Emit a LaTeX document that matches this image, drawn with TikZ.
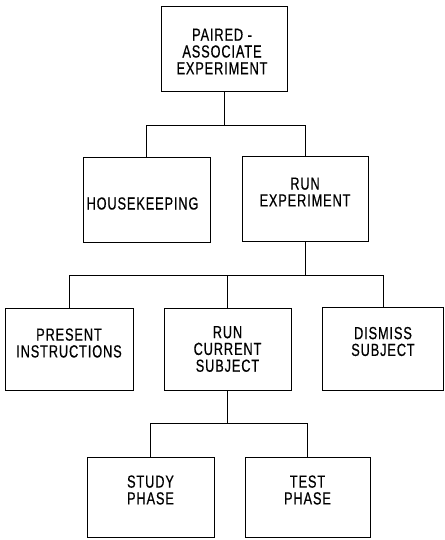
\documentclass[tikz,border=0pt]{standalone}
\usepackage{fontspec}
\newfontfamily\lblfont[FakeStretch=0.73,LetterSpace=5,FakeBold=0.5]{Liberation Sans}
\begin{document}
\begin{tikzpicture}[x=1pt,y=-1pt,
  box/.style={draw, line width=1pt, inner sep=0pt},
  txt/.style={font=\lblfont\fontsize{17.5}{16.8}\selectfont, align=center, inner sep=0pt},
  link/.style={line width=1pt}]
\useasboundingbox[fill=white] (0,0) rectangle (444,540);
% boxes
\node[box, minimum width=126pt, minimum height=85pt] (pae) at (224,49.5) {};
\node[box, minimum width=127pt, minimum height=84pt] (hk) at (146.5,200) {};
\node[box, minimum width=126pt, minimum height=84pt] (re) at (305,199) {};
\node[box, minimum width=128pt, minimum height=82pt] (pi) at (69,349) {};
\node[box, minimum width=127pt, minimum height=82pt] (rc) at (227.5,349) {};
\node[box, minimum width=121pt, minimum height=83pt] (ds) at (383,348.5) {};
\node[box, minimum width=127pt, minimum height=80pt] (sp) at (150.5,497) {};
\node[box, minimum width=125pt, minimum height=80pt] (tp) at (307.5,497) {};
% texts
\node[txt] (paet) at (222,51.5) {PAIRED -\\ASSOCIATE\\EXPERIMENT};
\node[txt] (hkt) at (142.5,203.5) {HOUSEKEEPING};
\node[txt] (ret) at (305,192) {RUN\\EXPERIMENT};
\node[txt] (pit) at (69,343) {PRESENT\\INSTRUCTIONS};
\node[txt] (rct) at (227.5,349) {RUN\\CURRENT\\SUBJECT};
\node[txt] (dst) at (383,341.5) {DISMISS\\SUBJECT};
\node[txt] (spt) at (150.5,490) {STUDY\\PHASE};
\node[txt] (tpt) at (307.5,490) {TEST\\PHASE};
% connectors
\draw[link] (pae.south) -- ++(0,33) coordinate (b1);
\draw[link] (hk.north) |- (b1) -| (re.north);
\draw[link] (re.south) -- ++(0,34) coordinate (b2);
\draw[link] (pi.north) |- (b2) -| (ds.north);
\draw[link] (rc.north) -- (rc.north |- b2);
\draw[link] (rc.south) -- ++(0,33) coordinate (b3);
\draw[link] (sp.north) |- (b3) -| (tp.north);
\end{tikzpicture}
\end{document}
